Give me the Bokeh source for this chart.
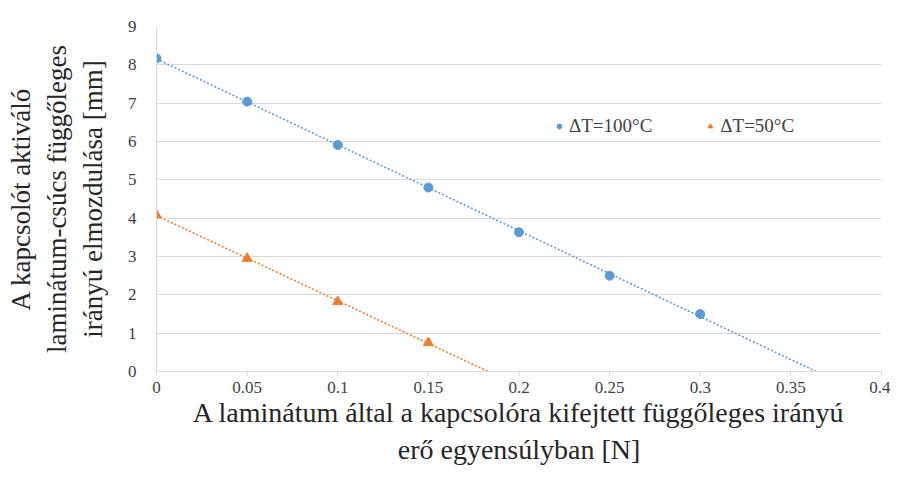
import numpy as np
from bokeh.plotting import figure
from bokeh.models import Range1d, FixedTicker, Legend, LegendItem
from bokeh.embed import file_html
from bokeh.resources import INLINE

# data
x_100 = [0, 0.05, 0.1, 0.15, 0.2, 0.25, 0.3]
y_100 = [8.17, 7.04, 5.91, 4.80, 3.63, 2.50, 1.50]
x_50 = [0, 0.05, 0.1, 0.15]
y_50 = [4.08, 2.95, 1.82, 0.75]
x_ticks = [0, 0.05, 0.1, 0.15, 0.2, 0.25, 0.3, 0.35, 0.4]
x_tick_labels = ["0", "0.05", "0.1", "0.15", "0.2", "0.25", "0.3", "0.35", "0.4"]
y_ticks = [0, 1, 2, 3, 4, 5, 6, 7, 8, 9]
series_names = ["ΔT=100°C", "ΔT=50°C"]

BLUE = "#5B9BD5"
ORANGE = "#ED7D31"
FONT = "Times New Roman"

p = figure(width=890, height=471, output_backend="svg", toolbar_location=None,
           x_range=Range1d(0, 0.4), y_range=Range1d(0, 9),
           min_border_left=156, min_border_right=9, min_border_top=26, min_border_bottom=100)
p.outline_line_color = None
p.background_fill_color = "white"

# trendlines (linear fit, extended to y=0)
def trend(xs, ys):
    k, b = np.polyfit(xs, ys, 1)
    x0 = -b / k
    return [0, x0], [b, 0]

tx, ty = trend(x_100, y_100)
p.line(tx, ty, line_color=BLUE, line_width=1.6, line_dash="2 2")
tx, ty = trend(x_50, y_50)
p.line(tx, ty, line_color=ORANGE, line_width=1.6, line_dash="2 2")

r1 = p.scatter(x_100, y_100, marker="circle", size=9, fill_color=BLUE, line_color=BLUE)
r2 = p.scatter(x_50, y_50, marker="triangle", size=10, fill_color=ORANGE, line_color=ORANGE)

# axes
p.xaxis.ticker = FixedTicker(ticks=x_ticks)
p.xaxis.major_label_overrides = {t: l for t, l in zip(x_ticks, x_tick_labels)}
p.yaxis.ticker = FixedTicker(ticks=y_ticks)
p.xaxis.minor_tick_line_color = None
p.yaxis.minor_tick_line_color = None
p.xaxis.axis_line_color = "#D9D9D9"
p.yaxis.axis_line_color = "#D9D9D9"
p.xaxis.major_tick_line_color = "#D9D9D9"
p.xaxis.major_tick_in = 0
p.xaxis.major_tick_out = 4
p.yaxis.major_tick_line_color = None
for ax in (p.xaxis, p.yaxis):
    ax.major_label_text_font = FONT
    ax.major_label_text_font_size = "17px"
    ax.major_label_text_color = "#404040"
    ax.axis_label_text_font = FONT
    ax.axis_label_text_font_style = "normal"
    ax.axis_label_text_color = "#262626"
p.xaxis.axis_label_text_font_size = "28px"
p.yaxis.axis_label_text_font_size = "27px"
p.yaxis.major_label_standoff = 14
p.xaxis.major_label_standoff = 6
p.xaxis.axis_label = "A laminátum által a kapcsolóra kifejtett függőleges irányú\nerő egyensúlyban [N]"
p.yaxis.axis_label = "A kapcsolót aktiváló\nlaminátum-csúcs függőleges\nirányú elmozdulása [mm]"
p.xaxis.axis_label_standoff = 1
p.yaxis.axis_label_standoff = 17

p.xgrid.grid_line_color = None
p.ygrid.grid_line_color = "#D9D9D9"
p.ygrid.grid_line_width = 1

legend = Legend(items=[LegendItem(label=series_names[0], renderers=[r1]),
                       LegendItem(label=series_names[1], renderers=[r2])],
                orientation="horizontal", location=(397, 234),
                label_text_font=FONT, label_text_font_size="19px", label_text_color="#404040",
                glyph_width=12, glyph_height=12, label_standoff=4, spacing=52,
                padding=0, margin=0, border_line_color=None, background_fill_alpha=0)
p.add_layout(legend)

open("out.html", "w").write(file_html(p, INLINE))
